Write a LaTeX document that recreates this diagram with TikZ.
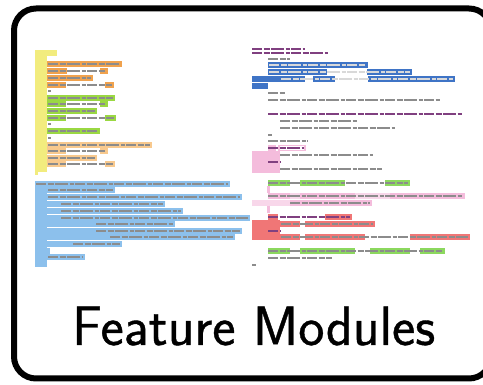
\documentclass[tikz,border=0pt]{standalone}
\usepackage{graphicx}
\usepackage{fontspec}
\newfontfamily\capfont{lmsans17-regular.otf}[FakeBold=0.7]
\definecolor{hlyellow}{HTML}{F2EC7E}
\definecolor{hlorange}{HTML}{F0A24E}
\definecolor{hlgreen}{HTML}{9AD842}
\definecolor{hlpeach}{HTML}{F8C98E}
\definecolor{hlblue}{HTML}{8CC0EC}
\definecolor{hldblue}{HTML}{3F74C6}
\definecolor{hlpink}{HTML}{F4BCDC}
\definecolor{hlred}{HTML}{F07676}
\definecolor{hlgreenb}{HTML}{8CD85E}
\tikzset{
  frame/.style={line width=6pt, rounded corners=22pt},
  txt/.style={line width=1.8pt, draw=black!45, dash pattern=on 10pt off 1.5pt on 6pt off 1.5pt on 13pt off 1.5pt on 4pt off 1.5pt},
  wtxt/.style={txt, draw=white!85!black},
  ptxt/.style={txt, draw=violet!50!gray},
}
% highlighted span of a code line: colour, x from, row centre, x to
\newcommand\codebar[4]{\fill[#1] (#2,#3-3.1) rectangle (#4,#3+3.1);}
% a run of code text on one row: style, x from, row centre, x to
\newcommand\codetext[4]{\draw[#1] (#2,#3) -- (#4,#3);}
\begin{document}
\begin{tikzpicture}[x=1pt,y=-1pt]
\useasboundingbox (0,0) rectangle (483,385);
\fill[white] (0,0) rectangle (483,385);

% ---------- left listing: annotated feature blocks ----------
\fill[hlyellow] (35,50) rectangle (47,172);
\codebar{hlyellow}{35}{53}{57}
\codebar{hlyellow}{35}{172}{38}
% orange block
\codebar{hlorange}{47}{64}{122}
\codebar{hlorange}{47}{71}{67}\codebar{hlorange}{100}{71}{108}
\codebar{hlorange}{47}{78}{93}
\codebar{hlorange}{47}{85}{66}\codebar{hlorange}{105}{85}{114}
\codetext{txt}{48}{64}{120}
\codetext{txt}{48}{71}{106}
\codetext{txt}{48}{78}{91}
\codetext{txt}{48}{85}{112}
\codetext{txt}{48}{91}{51}
% green block
\codebar{hlgreen}{47}{98}{115}
\codebar{hlgreen}{47}{104}{66}\codebar{hlgreen}{100}{104}{108}
\codebar{hlgreen}{47}{111}{97}
\codebar{hlgreen}{47}{118}{66}\codebar{hlgreen}{105}{118}{116}
\codebar{hlgreen}{47}{131}{100}
\codetext{txt}{48}{98}{113}
\codetext{txt}{48}{104}{106}
\codetext{txt}{48}{111}{95}
\codetext{txt}{48}{118}{114}
\codetext{txt}{48}{124}{51}
\codetext{txt}{48}{131}{98}
\codetext{txt}{48}{138}{51}
% peach block
\codebar{hlpeach}{47}{145}{152}
\codebar{hlpeach}{47}{151}{66}\codebar{hlpeach}{100}{151}{108}
\codebar{hlpeach}{47}{158}{97}
\codebar{hlpeach}{47}{164}{66}\codebar{hlpeach}{105}{164}{115}
\codetext{txt}{48}{145}{150}
\codetext{txt}{48}{151}{106}
\codetext{txt}{48}{158}{95}
\codetext{txt}{48}{164}{113}

% light blue method block
\fill[hlblue] (35,181) rectangle (47,267);
\codebar{hlblue}{35}{184}{230}
\codebar{hlblue}{47}{190}{115}
\codebar{hlblue}{47}{197}{242}
\codebar{hlblue}{47}{204}{165}
\codebar{hlblue}{47}{211}{183}
\codebar{hlblue}{47}{218}{250}
\codebar{hlblue}{47}{224}{175}
\codebar{hlblue}{47}{231}{242}
\codebar{hlblue}{47}{237}{235}
\codebar{hlblue}{47}{244}{122}
\codebar{hlblue}{47}{251}{50}
\codebar{hlblue}{47}{257}{85}
\codetext{txt}{36}{184}{228}
\codetext{txt}{48}{190}{113}
\codetext{txt}{48}{197}{240}
\codetext{txt}{61}{204}{163}
\codetext{txt}{61}{211}{181}
\codetext{txt}{61}{218}{248}
\codetext{txt}{96}{224}{173}
\codetext{txt}{96}{231}{240}
\codetext{txt}{110}{237}{233}
\codetext{txt}{73}{244}{120}
\codetext{txt}{48}{257}{83}

% ---------- right listing: highlighted variation points ----------
\codetext{ptxt}{252}{49}{305}
\codetext{ptxt}{252}{53}{328}
\codetext{txt}{268}{59}{290}
% dark blue block
\codebar{hldblue}{268}{65}{368}
\codebar{hldblue}{268}{72}{327}\codebar{hldblue}{367}{72}{412}
\codebar{hldblue}{252}{79}{305}\codebar{hldblue}{313}{79}{335}\codebar{hldblue}{368}{79}{455}
\codebar{hldblue}{252}{86}{268}
\codetext{wtxt}{269}{65}{366}
\codetext{wtxt}{269}{72}{410}
\codetext{wtxt}{281}{79}{453}
% plain lines
\codetext{txt}{268}{93}{285}
\codetext{txt}{268}{100}{440}
\codetext{ptxt}{268}{114}{462}
\codetext{txt}{280}{121}{358}
\codetext{txt}{280}{128}{395}
\codetext{txt}{268}{135}{272}
\codetext{txt}{268}{141}{308}
% pink block
\fill[hlpink] (252,151) rectangle (280,173);
\codebar{hlpink}{268}{148}{276}
\draw[hlpink, line width=1.2pt] (279,145.5) rectangle (305,150.5);
\codetext{ptxt}{268}{148}{304}
\codetext{txt}{280}{155}{373}
\codetext{ptxt}{268}{162}{280}
\codetext{txt}{280}{169}{382}
% green line
\codebar{hlgreenb}{268}{183}{290}\codebar{hlgreenb}{300}{183}{345}\codebar{hlgreenb}{385}{183}{410}
\codetext{txt}{268}{183}{408}
% pink lines
\fill[hlpink] (267,186) rectangle (269.5,193);
\codebar{hlpink!60}{268}{196}{465}
\codebar{hlpink}{268}{196}{290}\codebar{hlpink}{300}{196}{355}\codebar{hlpink}{390}{196}{465}
\codebar{hlpink!60}{252}{203}{372}
\codebar{hlpink}{290}{203}{372}
\codetext{txt}{268}{196}{463}
\codetext{txt}{290}{203}{370}
\fill[hlpink] (267,206) rectangle (269.5,213);
% red block
\fill[hlred] (252,220) rectangle (280,240);
\codebar{hlred}{268}{217}{278}\codebar{hlred}{325}{217}{352}
\codebar{hlred}{280}{224}{300}\codebar{hlred}{305}{224}{375}
\codebar{hlred}{280}{237}{300}\codebar{hlred}{305}{237}{365}\codebar{hlred}{410}{237}{470}
\codetext{ptxt}{268}{217}{350}
\codetext{txt}{281}{224}{373}
\codetext{ptxt}{268}{231}{280}
\codetext{txt}{281}{237}{468}
% green line and closing
\codebar{hlgreenb}{268}{251}{290}\codebar{hlgreenb}{300}{251}{355}\codebar{hlgreenb}{370}{251}{410}\codebar{hlgreenb}{420}{251}{445}
\codetext{txt}{268}{251}{443}
\codetext{txt}{268}{258}{332}
\codetext{txt}{252}{265}{256}

% ---------- frame and caption ----------
\draw[frame] (14,8.5) rectangle (491,378.5);
\node[anchor=base west, inner sep=0pt] (caption) at (72,345)
  {\resizebox{363pt}{!}{\capfont Feature Modules}};
\end{tikzpicture}
\end{document}
